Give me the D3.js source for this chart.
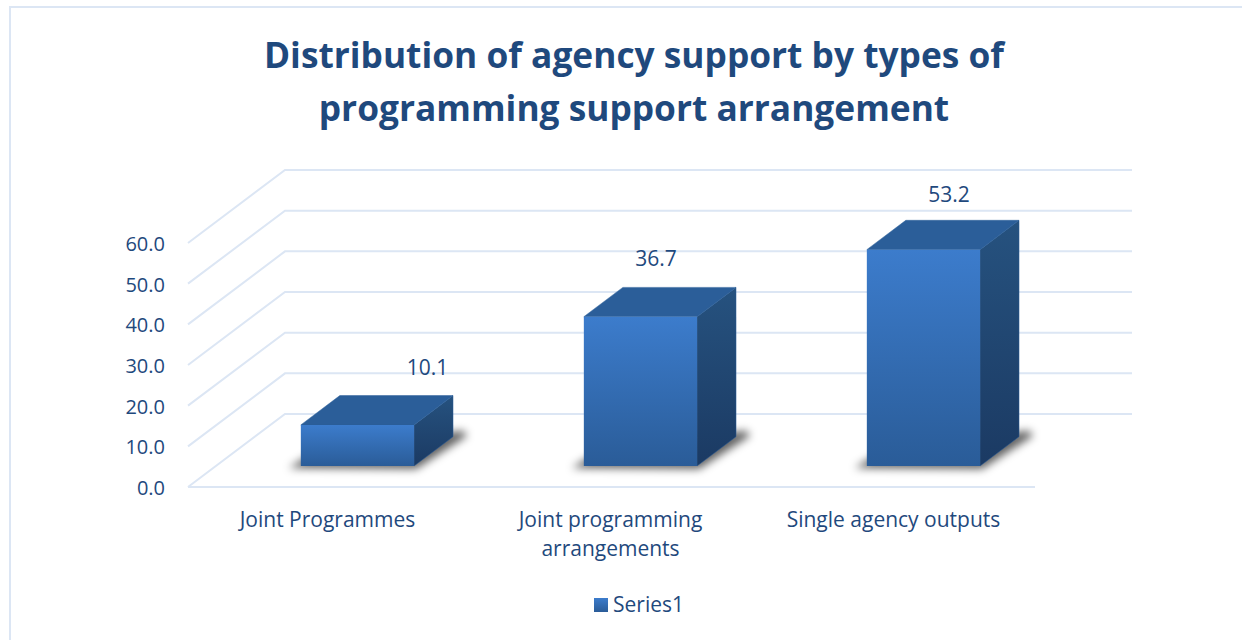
<!DOCTYPE html>
<html>
<head>
<meta charset="utf-8">
<script src="https://cdn.jsdelivr.net/npm/d3@7"></script>
<style>
html,body{margin:0;padding:0;background:#fff;overflow:hidden}
text{font-family:"Open Sans",Lato,sans-serif;fill:#1F497D}
</style>
</head>
<body>
<svg id="chart" width="1242" height="640"></svg>
<script>
const titleLines = ["Distribution of agency support by types of", "programming support arrangement"];
const categories = [["Joint Programmes"], ["Joint programming", "arrangements"], ["Single agency outputs"]];
const values = [10.1, 36.7, 53.2];
const yTicks = [0, 10, 20, 30, 40, 50, 60];
const seriesName = "Series1";
// hand-placed data-label nudges in the original chart
const labelNudgeX = [50.5, -4, 6];
const labelNudgeY = [-28, -28, -25];

const svg = d3.select("#chart");
const defs = svg.append("defs");
const grad = (id, x1, y1, x2, y2, stops) => {
  const g = defs.append("linearGradient").attr("id", id)
    .attr("x1", x1).attr("y1", y1).attr("x2", x2).attr("y2", y2);
  stops.forEach(s => g.append("stop").attr("offset", s[0]).attr("stop-color", s[1]));
};
grad("front", 0, 0, 0, 1, [[0, "#3C7CCC"], [1, "#2A5C98"]]);
grad("legendFill", 0, 0, 0, 1, [[0, "#3C7CCC"], [1, "#2A5C98"]]);
grad("side", 0, 0, 0, 1, [[0, "#26527F"], [1, "#1B3A63"]]);
defs.append("filter").attr("id", "blur").attr("x", "-30%").attr("y", "-30%").attr("width", "160%").attr("height", "160%")
  .append("feGaussianBlur").attr("stdDeviation", 4.5);

// frame (open on the right and bottom)
svg.append("path").attr("d", "M10,640V7H1242")
  .attr("fill", "none").attr("stroke", "#DCE6F4").attr("stroke-width", 2);

// title
svg.append("g").selectAll("text").data(titleLines).join("text")
  .attr("x", 634).attr("y", (d, i) => 68 + i * 53)
  .attr("text-anchor", "middle").attr("font-size", 35.3).attr("font-weight", 700)
  .text(d => d);

// scales
const floorLeft = 188, floorRight = 1035, floorY = 487;
const depthX = 97, depthY = -73;
const y = d3.scaleLinear().domain([0, 60]).range([floorY, floorY - 244]);
const x = d3.scaleBand().domain(d3.range(categories.length))
  .range([floorLeft, floorRight + 2]).paddingInner(0.6).paddingOuter(0.3);
const barNear = 0.288, barFar = 0.69;
const px = (xv, d) => xv + d * depthX;
const py = (yv, d) => yv + d * depthY;
const line = d3.line();

// grid
const grid = svg.append("g").attr("fill", "none").attr("stroke", "#DCE6F4").attr("stroke-width", 2);
grid.selectAll("path.wall").data(yTicks).join("path").attr("class", "wall")
  .attr("d", t => line([[floorLeft, y(t)], [px(floorLeft, 1), py(y(t), 1)], [px(floorRight, 1), py(y(t), 1)]]));
grid.append("path").attr("d", line([[floorLeft, floorY], [floorRight, floorY]]));

// y axis labels
const axis = d3.axisLeft(y).tickValues(yTicks).tickFormat(d3.format(".1f")).tickSize(0).tickPadding(0);
const ax = svg.append("g").attr("transform", `translate(165,1)`).call(axis);
ax.select(".domain").remove();
ax.selectAll("text").attr("font-size", 20).style("font-family", "'Open Sans',Lato,sans-serif").attr("dy", "0.33em");

// bars
const bars = svg.append("g").selectAll("g").data(values).join("g");
const geo = (v, i) => {
  const l = x(i), r = x(i) + x.bandwidth();
  const base = y(0), top = y(v);
  return {
    fl: [px(l, barNear), py(base, barNear)], fr: [px(r, barNear), py(base, barNear)],
    tl: [px(l, barNear), py(top, barNear)], tr: [px(r, barNear), py(top, barNear)],
    bl: [px(l, barFar), py(top, barFar)], br: [px(r, barFar), py(top, barFar)],
    br0: [px(r, barFar), py(base, barFar)], bl0: [px(l, barFar), py(base, barFar)]
  };
};
bars.append("path").attr("filter", "url(#blur)").attr("fill", "#000").attr("fill-opacity", 0.62)
  .attr("d", (v, i) => {
    const g = geo(v, i);
    return line([[g.fl[0] - 12, g.fl[1] + 2], [g.fr[0] + 2, g.fr[1] + 3], [g.br0[0] + 14, g.br0[1] - 1], [g.br0[0] + 10, g.br0[1] - 6], [g.fl[0] + 20, g.fl[1] - 18]]) + "Z";
  });
bars.append("path").attr("fill", "url(#side)")
  .attr("stroke", "#2A5C98").attr("stroke-width", 0.5)
  .attr("d", (v, i) => { const g = geo(v, i); return line([g.tr, g.br, g.br0, g.fr]) + "Z"; });
bars.append("path").attr("fill", "#2B5E99")
  .attr("stroke", "#2B5E99").attr("stroke-width", 0.5)
  .attr("d", (v, i) => { const g = geo(v, i); return line([g.tl, g.bl, g.br, g.tr]) + "Z"; });
bars.append("path").attr("fill", "url(#front)")
  .attr("d", (v, i) => { const g = geo(v, i); return line([g.tl, g.tr, g.fr, g.fl]) + "Z"; });

// data labels
svg.append("g").selectAll("text").data(values).join("text")
  .attr("text-anchor", "middle").attr("font-size", 21)
  .attr("x", (v, i) => px(x(i) + x.bandwidth() / 2, 0.49) + labelNudgeX[i])
  .attr("y", (v, i) => py(y(v), barFar) + labelNudgeY[i] + 7)
  .text(v => d3.format(".1f")(v));

// category labels
svg.append("g").selectAll("text").data(categories).join("text")
  .attr("text-anchor", "middle").attr("font-size", 21)
  .attr("y", 526.5)
  .each(function (lines, i) {
    d3.select(this).selectAll("tspan").data(lines).join("tspan")
      .attr("x", x(i) + x.bandwidth() / 2 - 2)
      .attr("dy", (d, j) => j ? 29 : 0)
      .text(d => d);
  });

// legend
const legend = svg.append("g");
legend.append("rect").attr("x", 594).attr("y", 598).attr("width", 14).attr("height", 14).attr("fill", "url(#legendFill)");
legend.append("text").attr("x", 613).attr("y", 612).attr("font-size", 21).text(seriesName);
</script>
</body>
</html>
